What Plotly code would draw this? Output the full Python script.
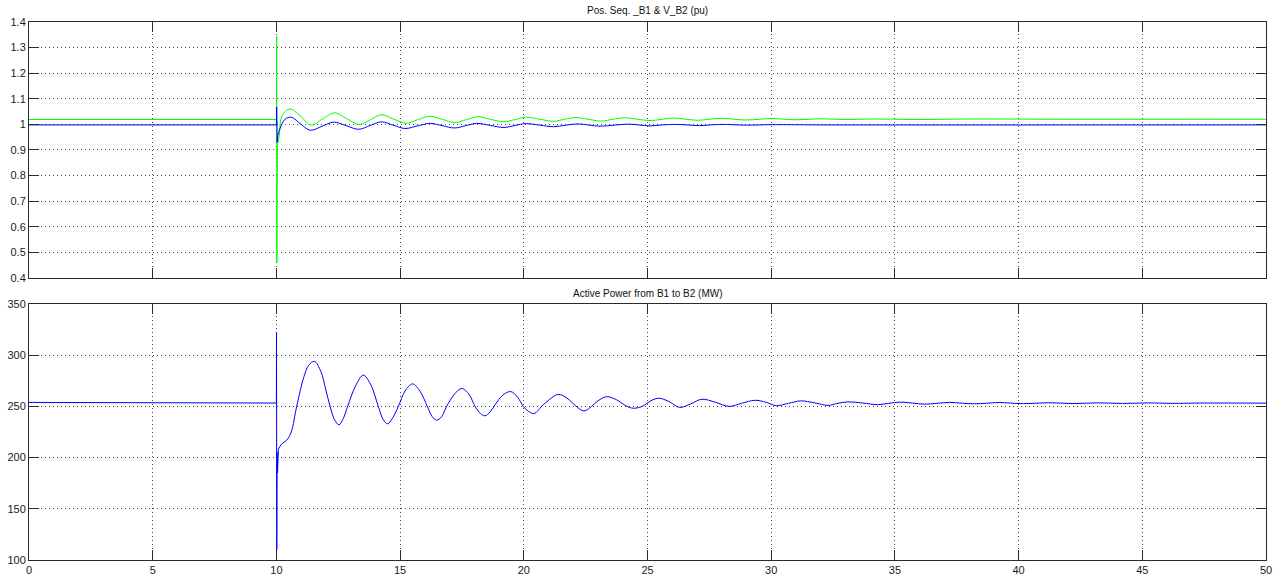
import plotly.graph_objects as go

# ---------------- data ----------------
# Top plot: positive-sequence voltages (pu)
t_b1_fault = [0.0, 10.0, 10.01, 10.02, 10.03, 10.05]
v_b1_fault = [1.019, 1.019, 1.345, 0.46, 0.77, 0.92]
t_b1_osc = [10.12, 10.23, 10.55, 10.95, 11.4, 11.85, 12.35, 12.85, 13.33, 13.8,
            14.25, 14.75, 15.25, 15.7, 16.2, 16.7, 17.2, 17.7, 18.15, 18.65,
            19.2, 19.65, 20.1, 20.65, 21.2, 21.65, 22.1, 22.6, 23.15, 23.6,
            24.1, 24.6, 25.1, 25.6, 26.05, 26.55, 27.05, 27.5, 28.0, 28.5,
            29.0, 29.5, 30.0, 31.0, 32.0, 33.0, 34.0, 36.0, 38.0, 42.0, 50.0]
v_b1_osc = [0.96, 1.034, 1.06, 1.035, 0.997, 1.02, 1.045, 1.022, 1.0, 1.018,
            1.038, 1.02, 1.004, 1.018, 1.032, 1.02, 1.007, 1.019, 1.03, 1.02,
            1.01, 1.019, 1.028, 1.02, 1.012, 1.02, 1.027, 1.02, 1.013, 1.02,
            1.026, 1.02, 1.015, 1.02, 1.025, 1.02, 1.016, 1.02, 1.024, 1.02,
            1.017, 1.02, 1.023, 1.018, 1.022, 1.019, 1.021, 1.019, 1.021, 1.02, 1.02]

t_b2_fault = [0.0, 10.0, 10.01, 10.03, 10.06]
v_b2_fault = [0.998, 0.998, 1.068, 0.93, 0.958]
t_b2_osc = [10.15, 10.35, 10.6, 11.0, 11.37, 11.85, 12.32, 12.82, 13.32, 13.8,
            14.24, 14.72, 15.2, 15.7, 16.22, 16.7, 17.2, 17.65, 18.1, 18.65,
            19.2, 19.65, 20.1, 20.65, 21.2, 21.7, 22.2, 22.65, 23.1, 23.65,
            24.2, 24.65, 25.1, 25.6, 26.1, 26.6, 27.1, 27.55, 28.0, 29.0,
            30.0, 32.0, 50.0]
v_b2_osc = [0.985, 1.02, 1.028, 1.0, 0.977, 0.993, 1.009, 0.995, 0.981, 0.996,
            1.01, 0.997, 0.984, 0.994, 1.004, 0.995, 0.986, 0.995, 1.004, 0.996,
            0.988, 0.996, 1.003, 0.997, 0.991, 0.997, 1.002, 0.997, 0.993, 0.997,
            1.001, 0.998, 0.994, 0.998, 1.0, 0.998, 0.995, 0.998, 1.0, 0.997,
            0.999, 0.998, 0.998]

# Bottom plot: active power from B1 to B2 (MW)
t_p_fault = [0.0, 2.85, 2.86, 10.0, 10.005, 10.01, 10.015, 10.03, 10.045, 10.08]
p_fault = [253.9, 253.9, 253.3, 253.3, 322.0, 205.0, 110.0, 205.0, 185.0, 208.0]
t_p_osc = [10.2, 10.42, 10.6, 10.82, 11.1, 11.3, 11.53, 11.8, 12.0, 12.17,
           12.35, 12.53, 12.7, 12.88, 13.2, 13.51, 13.8, 14.12, 14.32, 14.5,
           14.68, 14.93, 15.2, 15.5, 15.8, 16.1, 16.3, 16.48, 16.68, 16.88,
           17.2, 17.49, 17.78, 18.03, 18.25, 18.43, 18.65, 18.85, 19.15, 19.47,
           19.75, 19.98, 20.2, 20.42, 20.72, 21.05, 21.4, 21.75, 22.1, 22.43,
           22.74, 23.0, 23.35, 23.75, 24.1, 24.43, 24.83, 25.1, 25.44, 25.85,
           26.3, 26.75, 27.2, 27.75, 28.3, 28.8, 29.35, 29.8, 30.2, 30.7,
           31.2, 31.75, 32.3, 32.7, 33.1, 33.7, 34.3, 34.75, 35.2, 35.7,
           36.2, 36.7, 37.2, 37.7, 38.2, 38.7, 39.2, 40.2, 41.2, 42.2,
           43.2, 44.2, 45.2, 46.2, 47.5, 50.0]
p_osc = [213.0, 217.0, 225.0, 250.0, 278.0, 290.0, 294.0, 284.0, 266.0, 250.0,
         237.0, 232.0, 238.0, 250.0, 270.0, 280.5, 272.0, 250.0, 237.0, 233.0,
         238.0, 250.0, 265.0, 272.0, 265.0, 250.0, 240.0, 236.6, 240.0, 250.0,
         262.0, 267.5, 262.0, 250.0, 243.0, 240.8, 245.0, 252.0, 261.0, 264.5,
         259.0, 250.0, 245.0, 243.0, 250.0, 257.0, 261.8, 258.0, 250.5, 245.6,
         250.0, 255.5, 259.5, 256.5, 251.0, 248.2, 250.5, 255.0, 258.0, 255.0,
         249.0, 252.5, 257.0, 254.0, 250.0, 253.0, 256.0, 254.0, 250.7, 253.0,
         255.4, 253.5, 251.0, 253.0, 254.4, 253.3, 251.7, 253.0, 254.2, 253.3,
         252.2, 253.0, 253.9, 253.2, 252.5, 253.1, 253.8, 252.7, 253.6, 252.8,
         253.5, 252.9, 253.4, 253.0, 253.3, 253.2]

x_ticks = [0, 5, 10, 15, 20, 25, 30, 35, 40, 45, 50]
v_ticks = [0.4, 0.5, 0.6, 0.7, 0.8, 0.9, 1.0, 1.1, 1.2, 1.3, 1.4]
v_tick_labels = ["0.4", "0.5", "0.6", "0.7", "0.8", "0.9", "1", "1.1", "1.2", "1.3", "1.4"]
p_ticks = [100, 150, 200, 250, 300, 350]

title_top = "Pos. Seq. _B1 & V_B2 (pu)"
title_bottom = "Active Power from B1 to B2 (MW)"

GREEN = "#00ff00"
BLUE = "#0000ff"

# ---------------- figure ----------------
fig = go.Figure()


def add_series(t_fault, v_fault, t_osc, v_osc, color, xa, ya):
    fig.add_trace(go.Scatter(x=t_fault, y=v_fault, mode="lines",
                             line=dict(color=color, width=1, shape="linear"),
                             xaxis=xa, yaxis=ya, showlegend=False, hoverinfo="skip"))
    fig.add_trace(go.Scatter(x=[t_fault[-1]] + t_osc, y=[v_fault[-1]] + v_osc, mode="lines",
                             line=dict(color=color, width=1, shape="spline", smoothing=1.0),
                             xaxis=xa, yaxis=ya, showlegend=False, hoverinfo="skip"))


add_series(t_b1_fault, v_b1_fault, t_b1_osc, v_b1_osc, GREEN, "x", "y")
add_series(t_b2_fault, v_b2_fault, t_b2_osc, v_b2_osc, BLUE, "x", "y")
add_series(t_p_fault, p_fault, t_p_osc, p_osc, BLUE, "x2", "y2")

FONT = "Liberation Sans, Arial, Helvetica, sans-serif"
axis_common = dict(
    showline=True, linecolor="#2a2a2a", linewidth=1, mirror="ticks",
    ticks="inside", ticklen=10, tickwidth=1, tickcolor="#2a2a2a",
    showgrid=True, gridcolor="#444444", gridwidth=1, griddash="1px,3px",
    zeroline=False, automargin=False,
    tickfont=dict(family=FONT, size=11, color="#1a1a1a"),
)

top_dom = [0.5242, 1.0]
bot_dom = [0.0, 0.4758]

fig.update_layout(
    width=1279, height=575,
    margin=dict(l=29, r=13, t=22, b=15, autoexpand=False),
    paper_bgcolor="white", plot_bgcolor="white",
    xaxis=dict(domain=[0, 1], anchor="y", range=[0, 50], tickvals=x_ticks,
               showticklabels=False, **axis_common),
    yaxis=dict(domain=top_dom, anchor="x", range=[0.4, 1.4], tickvals=v_ticks,
               ticktext=v_tick_labels, **axis_common),
    xaxis2=dict(domain=[0, 1], anchor="y2", range=[0, 50], tickvals=x_ticks,
                **axis_common),
    yaxis2=dict(domain=bot_dom, anchor="x2", range=[100, 350], tickvals=p_ticks,
                **axis_common),
    annotations=[
        dict(text=title_top, xref="paper", yref="paper", x=0.5, y=top_dom[1],
             xanchor="center", yanchor="bottom", yshift=4, showarrow=False,
             font=dict(family=FONT, size=10, color="#111")),
        dict(text=title_bottom, xref="paper", yref="paper", x=0.5, y=bot_dom[1],
             xanchor="center", yanchor="bottom", yshift=3, showarrow=False,
             font=dict(family=FONT, size=10, color="#111")),
    ],
)

fig.write_html("out.html", config={"displayModeBar": False},
               post_script="document.body.style.margin='0';document.body.style.overflow='hidden';")
